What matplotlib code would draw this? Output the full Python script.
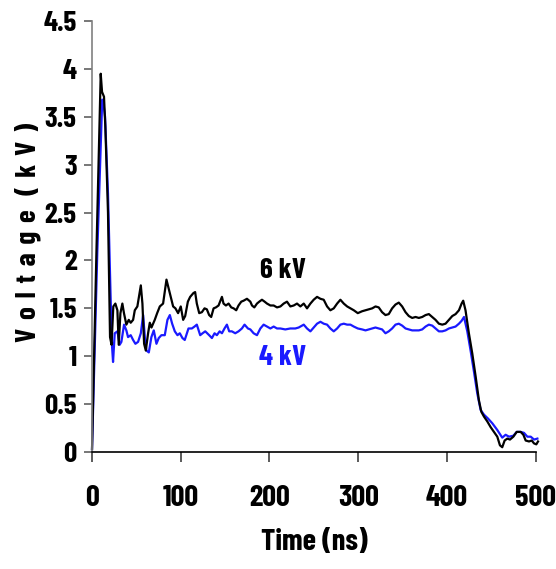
import matplotlib
matplotlib.use("Agg")
import matplotlib.pyplot as plt

plt.rcParams['font.family'] = ['Barlow Condensed', 'PT Sans Narrow', 'DejaVu Sans']
plt.rcParams['font.weight'] = 'bold'

# 6 kV trace (black), time in ns, voltage in kV
t_6kv = [0, 5, 9.8, 11.3, 13.5, 15, 18, 20.3, 22, 24, 26.3, 28.6, 30.1, 32, 34.2, 36, 38.7,
         41.4, 43.6, 46.3, 48.2, 51.1, 55, 56.8, 58.7, 60.6, 63.2, 65.1, 67, 70.7, 73.4, 76.4,
         80.1, 83.9, 87.7, 91.4, 94, 97, 100, 102.7, 105, 108, 110.6, 114.3, 116.2, 118.1,
         120.8, 123.8, 126.8, 129.4, 132, 134.3, 137, 139.6, 142.6, 146.4, 148.2, 150.9,
         153.9, 156.9, 159.6, 162.5, 165.1, 168.2, 170.8, 174.6, 178.4, 180.3, 182.9, 185.9,
         188.5, 191.5, 194.5, 197.2, 201, 204.7, 208.5, 212.3, 216, 219.7, 223.5, 227.3, 231,
         234.8, 238.6, 242.3, 246.1, 249.8, 253.6, 257.4, 261.1, 264.9, 268.6, 272.4, 276.2,
         279.9, 283.7, 287.5, 291.2, 295, 299.5, 304.4, 308.2, 311.9, 315.7, 319.5, 323.1,
         326.9, 330.7, 334.4, 338.2, 342, 345.7, 349.5, 353.3, 357, 360.8, 364.6, 368.3,
         372.1, 375.9, 379.6, 383.4, 387.1, 390.9, 394.7, 398.4, 402.2, 406, 409.7, 413.5,
         416.5, 418.3, 420.9, 424.7, 428.5, 432.3, 436, 438.7, 441.7, 445.4, 449.2, 452.9,
         456.7, 459.7, 462.3, 465, 468, 471, 474.8, 478.6, 483.1, 486.1, 488.7, 492.5, 495.5,
         498.1, 500.7, 502.6]
v_6kv = [0.03, 2.1, 3.95, 3.76, 3.71, 3.4, 2.5, 1.2, 1.12, 1.52, 1.55, 1.48, 1.12, 1.45, 1.55,
         1.45, 1.33, 1.38, 1.35, 1.38, 1.48, 1.52, 1.74, 1.55, 1.13, 1.06, 1.24, 1.35, 1.3,
         1.38, 1.45, 1.52, 1.55, 1.8, 1.66, 1.52, 1.5, 1.45, 1.52, 1.38, 1.42, 1.57, 1.62,
         1.66, 1.67, 1.55, 1.45, 1.46, 1.5, 1.49, 1.43, 1.41, 1.5, 1.51, 1.53, 1.62, 1.55,
         1.53, 1.55, 1.51, 1.5, 1.48, 1.53, 1.57, 1.58, 1.6, 1.57, 1.53, 1.51, 1.55, 1.57,
         1.59, 1.57, 1.55, 1.53, 1.53, 1.51, 1.52, 1.55, 1.57, 1.52, 1.53, 1.55, 1.52, 1.55,
         1.5, 1.55, 1.59, 1.62, 1.6, 1.59, 1.52, 1.48, 1.5, 1.55, 1.59, 1.55, 1.52, 1.5, 1.48,
         1.45, 1.47, 1.48, 1.49, 1.5, 1.52, 1.51, 1.46, 1.43, 1.44, 1.5, 1.54, 1.56, 1.52,
         1.46, 1.42, 1.4, 1.41, 1.4, 1.41, 1.43, 1.44, 1.41, 1.38, 1.34, 1.33, 1.34, 1.38,
         1.42, 1.44, 1.48, 1.55, 1.58, 1.48, 1.24, 1.03, 0.79, 0.54, 0.42, 0.37, 0.32, 0.26,
         0.21, 0.16, 0.07, 0.05, 0.12, 0.14, 0.13, 0.16, 0.21, 0.21, 0.18, 0.12, 0.11, 0.12,
         0.09, 0.08, 0.11]

# 4 kV trace (blue)
t_4kv = [0, 6, 11.5, 12.6, 14.7, 18, 21, 22.6, 23.7, 25.6, 28.6, 31.2, 33.1, 36.1, 38.7, 40.6,
         43.6, 46.3, 48.9, 51.9, 55, 57.6, 59.5, 61.3, 64, 66.9, 69.6, 72.6, 75.2, 78.2, 82,
         85, 87.7, 90.3, 93.3, 96.3, 98.9, 101.9, 104.5, 108.7, 112.5, 115.5, 118.1, 121.9,
         124.6, 127.6, 132, 135.1, 138.1, 140.7, 143.8, 146.4, 149.3, 152, 154.6, 157.6,
         161.4, 165.1, 168.9, 171.9, 175.7, 178.4, 182.1, 185.9, 189.7, 193.4, 197.2, 201,
         204.7, 208.5, 212.2, 217.8, 223.5, 229.1, 232.9, 238.6, 242.3, 246.1, 249.8, 253.6,
         257.4, 261.1, 264.9, 268.6, 272.4, 276.2, 279.9, 283.7, 287.5, 291.2, 295, 299.5,
         304.4, 308.2, 311.9, 315.7, 319.4, 323.1, 326.9, 330.7, 334.4, 338.2, 342, 345.7,
         349.5, 353.3, 357, 360.8, 364.6, 368.3, 372.1, 375.9, 379.6, 383.4, 387.1, 390.9,
         394.7, 398.4, 402.2, 406, 409.7, 413.5, 416.5, 419.2, 422.9, 426.6, 430.4, 434.2,
         437.9, 441.7, 446.2, 451.1, 456.7, 462.3, 466.1, 469.9, 474.8, 478.6, 483.1, 486.8,
         490.6, 494.4, 498.1, 501.9]
v_4kv = [0.03, 2.1, 3.68, 3.66, 3.5, 2.7, 1.6, 1.1, 0.94, 1.24, 1.26, 1.12, 1.15, 1.33, 1.27,
         1.2, 1.22, 1.17, 1.13, 1.15, 1.24, 1.43, 1.2, 1.06, 1.04, 1.2, 1.27, 1.13, 1.19, 1.22,
         1.22, 1.38, 1.43, 1.34, 1.26, 1.22, 1.24, 1.19, 1.17, 1.29, 1.29, 1.31, 1.33, 1.22,
         1.24, 1.26, 1.22, 1.19, 1.24, 1.22, 1.26, 1.24, 1.29, 1.33, 1.26, 1.26, 1.24, 1.26,
         1.29, 1.33, 1.29, 1.28, 1.24, 1.22, 1.29, 1.33, 1.31, 1.29, 1.31, 1.29, 1.29, 1.28,
         1.29, 1.29, 1.3, 1.33, 1.29, 1.26, 1.3, 1.34, 1.36, 1.34, 1.33, 1.29, 1.26, 1.29,
         1.33, 1.34, 1.33, 1.33, 1.31, 1.29, 1.28, 1.27, 1.28, 1.29, 1.3, 1.29, 1.28, 1.24,
         1.26, 1.29, 1.33, 1.34, 1.32, 1.29, 1.28, 1.27, 1.27, 1.27, 1.28, 1.31, 1.33, 1.32,
         1.29, 1.26, 1.26, 1.27, 1.29, 1.3, 1.31, 1.34, 1.37, 1.41, 1.26, 1.06, 0.84, 0.61,
         0.44, 0.39, 0.35, 0.3, 0.23, 0.15, 0.18, 0.16, 0.17, 0.21, 0.21, 0.2, 0.16, 0.16,
         0.13, 0.14]

x_ticks = [0, 100, 200, 300, 400, 500]
y_ticks = [0, 0.5, 1, 1.5, 2, 2.5, 3, 3.5, 4, 4.5]
y_tick_labels = ['0', '0.5', '1', '1.5', '2', '2.5', '3', '3.5', '4', '4.5']

fig = plt.figure(figsize=(5.56, 5.69), dpi=100)
ax = fig.add_axes([0.1655, 0.2056, 0.798, 0.7574])

ax.plot(t_4kv, v_4kv, color='#1a1aff', lw=1.6, clip_on=False)
ax.plot(t_6kv, v_6kv, color='black', lw=1.6, clip_on=False)

ax.set_xlim(0, 500)
ax.set_ylim(0, 4.5)
ax.set_xticks(x_ticks)
ax.set_yticks(y_ticks)
ax.set_yticklabels(y_tick_labels)

ax.spines['top'].set_visible(False)
ax.spines['right'].set_visible(False)
ax.spines['left'].set_color('#808080')
ax.spines['left'].set_linewidth(1.2)
ax.spines['bottom'].set_linewidth(1.2)
ax.tick_params(axis='y', direction='out', length=6, width=1.2, color='#606060',
               labelsize=21, pad=5)
ax.tick_params(axis='x', direction='out', length=7, width=1.2, color='#404040',
               labelsize=22, pad=17)
for lab in ax.get_xticklabels() + ax.get_yticklabels():
    lab.set_fontweight('bold')

ax.set_xlabel('Time (ns)', fontsize=22, fontweight='bold', labelpad=12)
ylab = ' \u200a'.join(list('Voltage')) + '  \u200a' + ' \u200a'.join(list('(kV)'))
fig.text(0.050, 0.592, ylab, rotation=90, fontsize=21,
         fontweight='bold', ha='center', va='center')

ax.text(215, 1.9, '6 kV', color='black', fontsize=21, fontweight='bold',
        ha='center', va='center')
ax.text(215, 0.99, '4 kV', color='#1a1aff', fontsize=21, fontweight='bold',
        ha='center', va='center')

fig.savefig('out.png', dpi=100)
